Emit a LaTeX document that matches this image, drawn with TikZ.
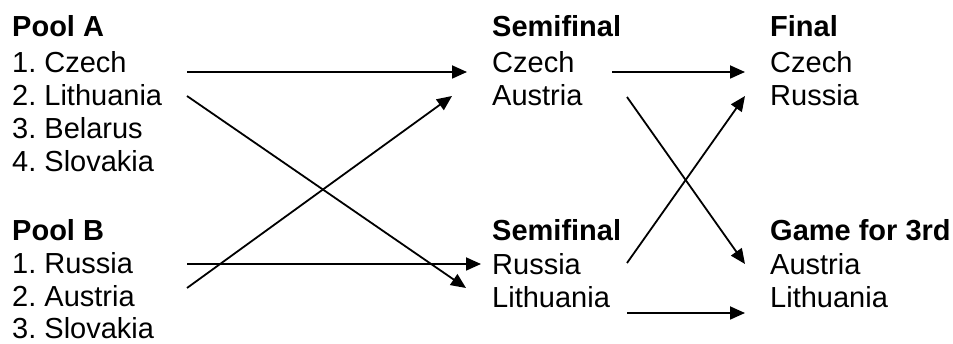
\documentclass[tikz,border=0pt]{standalone}
\usepackage{fontspec}
\setmainfont{Liberation Sans}
\usetikzlibrary{arrows.meta}
\frenchspacing
\begin{document}
\begin{tikzpicture}[x=1pt,y=-1pt,
  txt/.style={anchor=base west,inner sep=0pt,font=\fontsize{29}{33}\selectfont},
  hd/.style={txt,font=\fontsize{29}{33}\selectfont\bfseries},
  arr/.style={line width=1.8pt,-{Triangle[length=15pt,width=13pt]}}]
\useasboundingbox (0,0) rectangle (953,344);
% Pool A
\node[hd]  (pa)  at (12,37)  {Pool A};
\node[txt] (pa1) at (12,73)  {1. Czech};
\node[txt] (pa2) at (12,106) {2. Lithuania};
\node[txt] (pa3) at (12,139) {3. Belarus};
\node[txt] (pa4) at (12,172) {4. Slovakia};
% Pool B
\node[hd]  (pb)  at (12,241) {Pool B};
\node[txt] (pb1) at (12,274) {1. Russia};
\node[txt] (pb2) at (12,307) {2. Austria};
\node[txt] (pb3) at (12,339) {3. Slovakia};
% Semifinal 1
\node[hd]  (s1)  at (492,37)  {Semifinal};
\node[txt] (s11) at (492,73)  {Czech};
\node[txt] (s12) at (492,106) {Austria};
% Semifinal 2
\node[hd]  (s2)  at (492,241) {Semifinal};
\node[txt] (s21) at (492,275) {Russia};
\node[txt] (s22) at (492,308) {Lithuania};
% Final
\node[hd]  (f)   at (770,37)  {Final};
\node[txt] (f1)  at (770,73)  {Czech};
\node[txt] (f2)  at (770,106) {Russia};
% Game for 3rd
\node[hd]  (g)   at (770,241) {Game for 3rd};
\node[txt] (g1)  at (770,275) {Austria};
\node[txt] (g2)  at (770,308) {Lithuania};
% connector ends
\coordinate (a1o) at (187,72);
\coordinate (a2o) at (187,96);
\coordinate (b1o) at (187,264);
\coordinate (b2o) at (187,288);
\coordinate (s11i) at (467,72);
\coordinate (s12i) at (452,96);
\coordinate (s21i) at (481,264);
\coordinate (s22i) at (466,288);
\coordinate (s11o) at (612,72);
\coordinate (s12o) at (627,97);
\coordinate (s21o) at (627,263);
\coordinate (s22o) at (627,313);
\coordinate (f1i) at (745,72);
\coordinate (f2i) at (745,96);
\coordinate (g1i) at (745,264);
\coordinate (g2i) at (745,313);
% connectors
\draw[arr] (a1o) -- (s11i);
\draw[arr] (a2o) -- (s22i);
\draw[arr] (b2o) -- (s12i);
\draw[arr] (b1o) -- (s21i);
\draw[arr] (s11o) -- (f1i);
\draw[arr] (s12o) -- (g1i);
\draw[arr] (s21o) -- (f2i);
\draw[arr] (s22o) -- (g2i);
\end{tikzpicture}
\end{document}
